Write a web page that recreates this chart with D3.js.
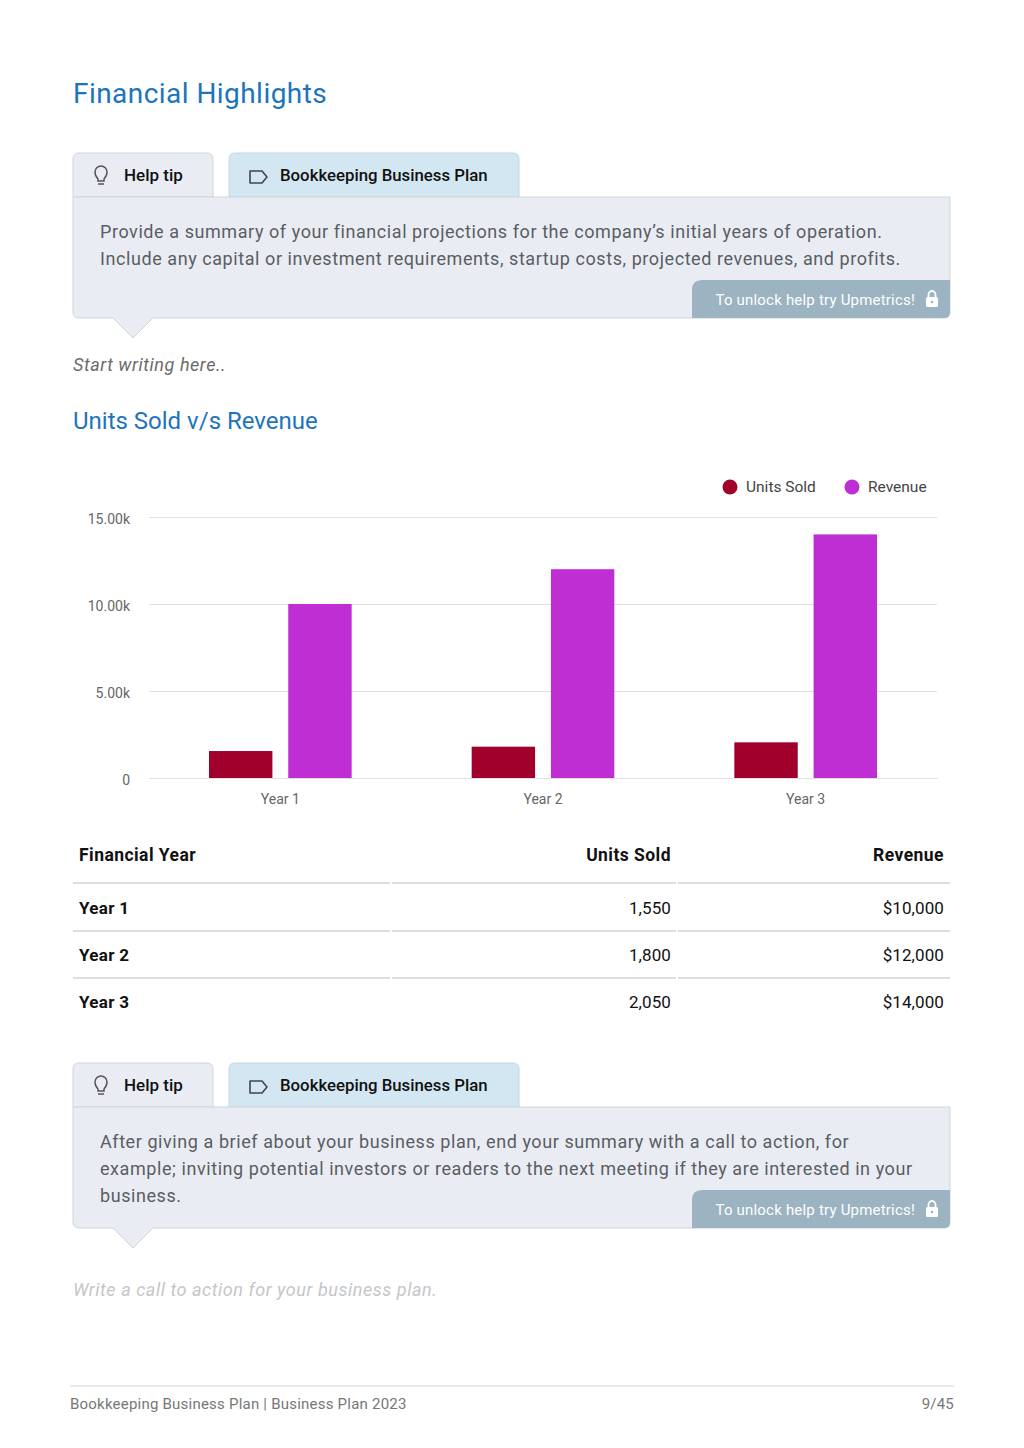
<!DOCTYPE html>
<html lang="en">
<head>
    <meta charset="UTF-8">
    <title>Financial Highlights</title>
    <script src="https://d3js.org/d3.v7.min.js"></script>
    <style>
        body { margin: 0; background: #fff; font-family: Roboto, "Noto Sans", sans-serif; }
        svg { display: block; }
    </style>
</head>
<body>
    <svg id="page" width="1024" height="1448"></svg>
    <script>
        var years = ['Year 1', 'Year 2', 'Year 3'];
        var seriesNames = ['Units Sold', 'Revenue'];
        var unitsSold = [1550, 1800, 2050];
        var revenue = [10000, 12000, 14000];
        var yTicks = [0, 5000, 10000, 15000];
        var tableHeaders = ['Financial Year', 'Units Sold', 'Revenue'];
        var colors = ['#a0002b', '#be2ed3'];

        var svg = d3.select('#page');
        var blue = '#1d74bb';

        svg.append('text').text('Financial Highlights')
            .attr('x', 73).attr('y', 103)
            .style('font-size', '28px').style('letter-spacing', '0.45px').style('fill', blue);

        // help tip box
        function helpBox(top, lines) {
            var g = svg.append('g').attr('transform', 'translate(0,' + top + ')');
            // tabs
            g.append('path')
                .attr('d', 'M73,44 V6 Q73,0 79,0 H207 Q213,0 213,6 V44 Z')
                .attr('fill', '#e9edf3').attr('stroke', '#cfd5dc');
            g.append('path')
                .attr('d', 'M229,44 V6 Q229,0 235,0 H513 Q519,0 519,6 V44 Z')
                .attr('fill', '#d3e7f2').attr('stroke', '#c3d6e2');
            // bulb icon
            var bulb = g.append('g').attr('transform', 'translate(101,22)')
                .attr('fill', 'none').attr('stroke', '#555').attr('stroke-width', 1.5);
            bulb.append('path').attr('d', 'M-3,6 V4 Q-6,1 -6,-3 A6,6 0 1 1 6,-3 Q6,1 3,4 V6 Z');
            bulb.append('line').attr('x1', -3).attr('x2', 3).attr('y1', 9).attr('y2', 9);
            g.append('text').text('Help tip').attr('x', 124).attr('y', 28)
                .style('font-size', '17px').style('font-weight', 500).style('fill', '#111');
            // tag icon
            g.append('path').attr('d', 'M250,18 H262 L267,24 L262,30 H250 Z')
                .attr('fill', 'none').attr('stroke', '#444').attr('stroke-width', 1.6)
                .attr('stroke-linejoin', 'round');
            g.append('text').text('Bookkeeping Business Plan').attr('x', 280).attr('y', 28)
                .style('font-size', '16.8px').style('font-weight', 500).style('fill', '#111');
            // body with pointer
            g.append('path')
                .attr('d', 'M73,44 H950 V159 Q950,165 944,165 H153 L133,185 L113,165 H79 Q73,165 73,159 Z')
                .attr('fill', '#e9edf3').attr('stroke', '#cfd5dc');
            g.selectAll('text.body').data(lines).enter().append('text')
                .attr('class', 'body')
                .text(function (d) { return d; })
                .attr('x', 100)
                .attr('y', function (d, i) { return 85 + i * 27; })
                .style('font-size', '18px').style('letter-spacing', '0.57px').style('fill', '#5a5d62');
            // unlock button
            g.append('path')
                .attr('d', 'M692,165 V137 Q692,127 702,127 H950 V159 Q950,165 944,165 Z')
                .attr('fill', '#9cb3c1');
            g.append('text').text('To unlock help try Upmetrics!')
                .attr('x', 915).attr('y', 152).attr('text-anchor', 'end')
                .style('font-size', '15px').style('letter-spacing', '0.2px').style('fill', '#fff');
            var lock = g.append('g').attr('transform', 'translate(932,147)');
            lock.append('path').attr('d', 'M-3.5,-3 V-5.5 A3.5,3.5 0 0 1 3.5,-5.5 V-3')
                .attr('fill', 'none').attr('stroke', '#fff').attr('stroke-width', 1.8);
            lock.append('rect').attr('x', -6).attr('y', -3).attr('width', 12).attr('height', 10)
                .attr('rx', 1.5).attr('fill', '#fff');
            lock.append('circle').attr('cx', 0).attr('cy', 2).attr('r', 1.3).attr('fill', '#9cb3c1');
        }

        helpBox(153, [
            'Provide a summary of your financial projections for the company\u2019s initial years of operation.',
            'Include any capital or investment requirements, startup costs, projected revenues, and profits.'
        ]);

        svg.append('text').text('Start writing here..')
            .attr('x', 73).attr('y', 371)
            .style('font-size', '18px').style('letter-spacing', '0.55px')
            .style('font-style', 'italic').style('fill', '#6b6b6b');

        svg.append('text').text('Units Sold v/s Revenue')
            .attr('x', 73).attr('y', 429)
            .style('font-size', '24px').style('fill', blue);

        // chart
        var x0 = d3.scaleBand().domain(years).range([149, 937]).paddingInner(0).paddingOuter(0);
        var x1 = d3.scaleBand().domain(seriesNames).range([60, x0.bandwidth() - 60]).paddingInner(0.2);
        var y = d3.scaleLinear().domain([0, 15000]).range([778, 517]);
        var fmt = function (d) { return d === 0 ? '0' : d3.format('.2f')(d / 1000) + 'k'; };

        var chart = svg.append('g');
        chart.append('g').attr('transform', 'translate(149,0)')
            .call(d3.axisLeft(y).tickValues(yTicks).tickSize(-788).tickFormat(fmt))
            .call(function (g) {
                g.select('.domain').remove();
                g.selectAll('.tick line').attr('stroke', '#e0e0e0').attr('stroke-width', 1.2);
                g.selectAll('.tick text').attr('x', -19).attr('dy', '0.45em')
                    .style('font-size', '14px').style('fill', '#666').style('font-family', 'Roboto');
            });

        chart.append('g').attr('transform', 'translate(0,778)')
            .call(d3.axisBottom(x0).tickSize(0))
            .call(function (g) {
                g.select('.domain').attr('stroke', '#e0e0e0');
                g.selectAll('.tick text').attr('dy', '1.65em')
                    .style('font-size', '14px').style('fill', '#666').style('font-family', 'Roboto');
            });

        var rows = years.map(function (yr, i) { return { year: yr, values: [unitsSold[i], revenue[i]] }; });
        chart.selectAll('g.group').data(rows).enter().append('g')
            .attr('class', 'group')
            .attr('transform', function (d) { return 'translate(' + x0(d.year) + ',0)'; })
            .selectAll('rect').data(function (d) { return d.values; })
            .enter().append('rect')
            .attr('x', function (d, i) { return x1(seriesNames[i]); })
            .attr('width', x1.bandwidth())
            .attr('y', function (d) { return y(d); })
            .attr('height', function (d) { return y(0) - y(d); })
            .attr('fill', function (d, i) { return colors[i]; });

        // legend
        var legendX = [730, 852];
        var legend = svg.selectAll('g.legend').data(seriesNames).enter().append('g')
            .attr('class', 'legend')
            .attr('transform', function (d, i) { return 'translate(' + legendX[i] + ',487)'; });
        legend.append('circle').attr('r', 7.5).attr('fill', function (d, i) { return colors[i]; });
        legend.append('text').text(function (d) { return d; })
            .attr('x', 16).attr('dy', '0.35em')
            .style('font-size', '15.5px').style('fill', '#444');

        // table
        var colX = [79, 671, 944];
        var anchors = ['start', 'end', 'end'];
        var segs = [[73, 390], [392, 676], [678, 950]];
        svg.selectAll('text.th').data(tableHeaders).enter().append('text')
            .attr('class', 'th')
            .text(function (d) { return d; })
            .attr('x', function (d, i) { return colX[i]; })
            .attr('y', 861)
            .attr('text-anchor', function (d, i) { return anchors[i]; })
            .style('font-size', '17.5px').style('letter-spacing', '0.45px')
            .style('font-weight', 700).style('fill', '#111');

        var lineYs = [883, 931, 978];
        lineYs.forEach(function (ly) {
            segs.forEach(function (s) {
                svg.append('line').attr('x1', s[0]).attr('x2', s[1]).attr('y1', ly).attr('y2', ly)
                    .attr('stroke', '#d3d3d3').attr('stroke-width', 1.3);
            });
        });

        var cell = d3.format(',');
        var money = function (v) { return '$' + d3.format(',')(v); };
        years.forEach(function (yr, i) {
            var by = 914 + i * 47;
            var vals = [yr, cell(unitsSold[i]), money(revenue[i])];
            vals.forEach(function (v, j) {
                svg.append('text').text(v)
                    .attr('x', colX[j]).attr('y', by)
                    .attr('text-anchor', anchors[j])
                    .style('font-size', '17px')
                    .style('letter-spacing', j === 0 ? '0.3px' : '0.1px')
                    .style('font-weight', j === 0 ? 700 : 400)
                    .style('fill', '#111');
            });
        });

        helpBox(1063, [
            'After giving a brief about your business plan, end your summary with a call to action, for',
            'example; inviting potential investors or readers to the next meeting if they are interested in your',
            'business.'
        ]);

        svg.append('text').text('Write a call to action for your business plan.')
            .attr('x', 73).attr('y', 1296)
            .style('font-size', '18px').style('letter-spacing', '0.55px')
            .style('font-style', 'italic').style('fill', '#c4c6c9');

        // footer
        svg.append('line').attr('x1', 70).attr('x2', 954).attr('y1', 1386).attr('y2', 1386)
            .attr('stroke', '#e2e2e2').attr('stroke-width', 1.5);
        svg.append('text').text('Bookkeeping Business Plan | Business Plan 2023')
            .attr('x', 70).attr('y', 1409)
            .style('font-size', '15px').style('letter-spacing', '0.22px').style('fill', '#777');
        svg.append('text').text('9/45')
            .attr('x', 954).attr('y', 1409).attr('text-anchor', 'end')
            .style('font-size', '15px').style('letter-spacing', '0.22px').style('fill', '#777');
    </script>
</body>
</html>
